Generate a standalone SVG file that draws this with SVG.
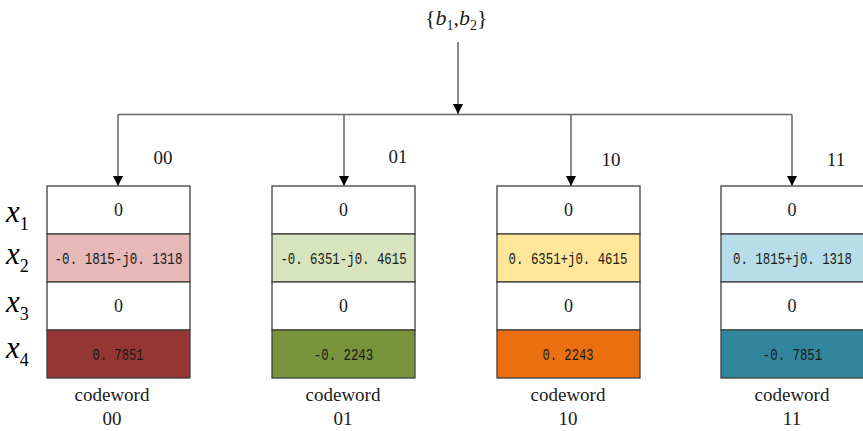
<svg xmlns="http://www.w3.org/2000/svg" width="863" height="431" viewBox="0 0 863 431">
<defs>
<marker id="ah" viewBox="0 0 10 10" markerWidth="10" markerHeight="11" refX="10" refY="5" orient="auto" markerUnits="userSpaceOnUse">
<path d="M0,0 L10,5 L0,10 z" fill="#000"/>
</marker>
<style>
.cell{stroke:#404040;stroke-width:1.3}
.con{stroke:#666;stroke-width:1.5;fill:none}
.mono{font-family:"Liberation Mono","Courier New",monospace;font-size:16.5px;fill:#1a1a1a;text-anchor:middle}
.zero{font-size:18px;fill:#1a1a1a;text-anchor:middle}
.lab{font-size:19px;fill:#1a1a1a;text-anchor:middle}
.xv{font-size:31px;font-style:italic;fill:#000}
.xs{font-size:18px;font-style:normal;fill:#000}
</style>
</defs>
<rect width="863" height="431" fill="#fff"/>

<g id="input" font-family="Liberation Serif, Times New Roman, serif">
<text x="425" y="25" font-size="22" fill="#1a1a1a"><tspan>{</tspan><tspan font-style="italic">b</tspan><tspan font-size="14" dy="5">1</tspan><tspan dy="-5">,</tspan><tspan font-style="italic">b</tspan><tspan font-size="14" dy="5">2</tspan><tspan dy="-5">}</tspan></text>
</g>

<g id="connectors" font-family="Liberation Serif, Times New Roman, serif">
<line class="con" x1="458" y1="42" x2="458" y2="114" marker-end="url(#ah)"/>
<line class="con" x1="118" y1="114.5" x2="792" y2="114.5"/>
<line class="con" x1="118" y1="114.5" x2="118" y2="186" marker-end="url(#ah)"/>
<line class="con" x1="344" y1="114.5" x2="344" y2="186" marker-end="url(#ah)"/>
<line class="con" x1="571" y1="114.5" x2="571" y2="186" marker-end="url(#ah)"/>
<line class="con" x1="792" y1="114.5" x2="792" y2="186" marker-end="url(#ah)"/>
<text class="lab" x="163" y="164">00</text>
<text class="lab" x="398" y="163">01</text>
<text class="lab" x="611" y="166">10</text>
<text class="lab" x="836" y="166">11</text>
</g>

<g id="row-labels" font-family="Liberation Serif, Times New Roman, serif">
<text class="xv" x="6" y="222">x<tspan class="xs" dy="8">1</tspan></text>
<text class="xv" x="6" y="264">x<tspan class="xs" dy="8">2</tspan></text>
<text class="xv" x="6" y="312">x<tspan class="xs" dy="8">3</tspan></text>
<text class="xv" x="6" y="358">x<tspan class="xs" dy="8">4</tspan></text>
</g>

<g id="codeword-00" font-family="Liberation Serif, Times New Roman, serif">
<rect class="cell" x="47" y="186" width="143" height="48" fill="#fff"/>
<rect class="cell" x="47" y="234" width="143" height="48" fill="#E6B9B8"/>
<rect class="cell" x="47" y="282" width="143" height="48" fill="#fff"/>
<rect class="cell" x="47" y="330" width="143" height="48" fill="#943634"/>
<text class="zero" x="118.5" y="216">0</text>
<text class="mono" transform="translate(118.5,264) scale(0.76,1)">-0. 1815-j0. 1318</text>
<text class="zero" x="118.5" y="312">0</text>
<text class="mono" transform="translate(118,359.5) scale(0.74,1)">0. 7851</text>
<text class="lab" x="112" y="400.5">codeword</text>
<text class="lab" x="112" y="425">00</text>
</g>

<g id="codeword-01" font-family="Liberation Serif, Times New Roman, serif">
<rect class="cell" x="272" y="186" width="143" height="48" fill="#fff"/>
<rect class="cell" x="272" y="234" width="143" height="48" fill="#D7E4BD"/>
<rect class="cell" x="272" y="282" width="143" height="48" fill="#fff"/>
<rect class="cell" x="272" y="330" width="143" height="48" fill="#77933C"/>
<text class="zero" x="343.5" y="216">0</text>
<text class="mono" transform="translate(343.5,264) scale(0.75,1)">-0. 6351-j0. 4615</text>
<text class="zero" x="343.5" y="312">0</text>
<text class="mono" transform="translate(343.5,359.5) scale(0.75,1)">-0. 2243</text>
<text class="lab" x="343" y="400.5">codeword</text>
<text class="lab" x="343" y="425">01</text>
</g>

<g id="codeword-10" font-family="Liberation Serif, Times New Roman, serif">
<rect class="cell" x="497" y="186" width="143" height="48" fill="#fff"/>
<rect class="cell" x="497" y="234" width="143" height="48" fill="#FFE699"/>
<rect class="cell" x="497" y="282" width="143" height="48" fill="#fff"/>
<rect class="cell" x="497" y="330" width="143" height="48" fill="#EC6F0F"/>
<text class="zero" x="568.5" y="216">0</text>
<text class="mono" transform="translate(568,264) scale(0.75,1)">0. 6351+j0. 4615</text>
<text class="zero" x="568.5" y="312">0</text>
<text class="mono" transform="translate(568,359.5) scale(0.74,1)">0. 2243</text>
<text class="lab" x="568" y="400.5">codeword</text>
<text class="lab" x="568" y="425">10</text>
</g>

<g id="codeword-11" font-family="Liberation Serif, Times New Roman, serif">
<rect class="cell" x="721" y="186" width="143" height="48" fill="#fff"/>
<rect class="cell" x="721" y="234" width="143" height="48" fill="#B7DEE8"/>
<rect class="cell" x="721" y="282" width="143" height="48" fill="#fff"/>
<rect class="cell" x="721" y="330" width="143" height="48" fill="#31859C"/>
<text class="zero" x="792" y="216">0</text>
<text class="mono" transform="translate(792.5,264) scale(0.75,1)">0. 1815+j0. 1318</text>
<text class="zero" x="792" y="312">0</text>
<text class="mono" transform="translate(792.5,359.5) scale(0.75,1)">-0. 7851</text>
<text class="lab" x="792" y="400.5">codeword</text>
<text class="lab" x="792" y="425">11</text>
</g>
</svg>
